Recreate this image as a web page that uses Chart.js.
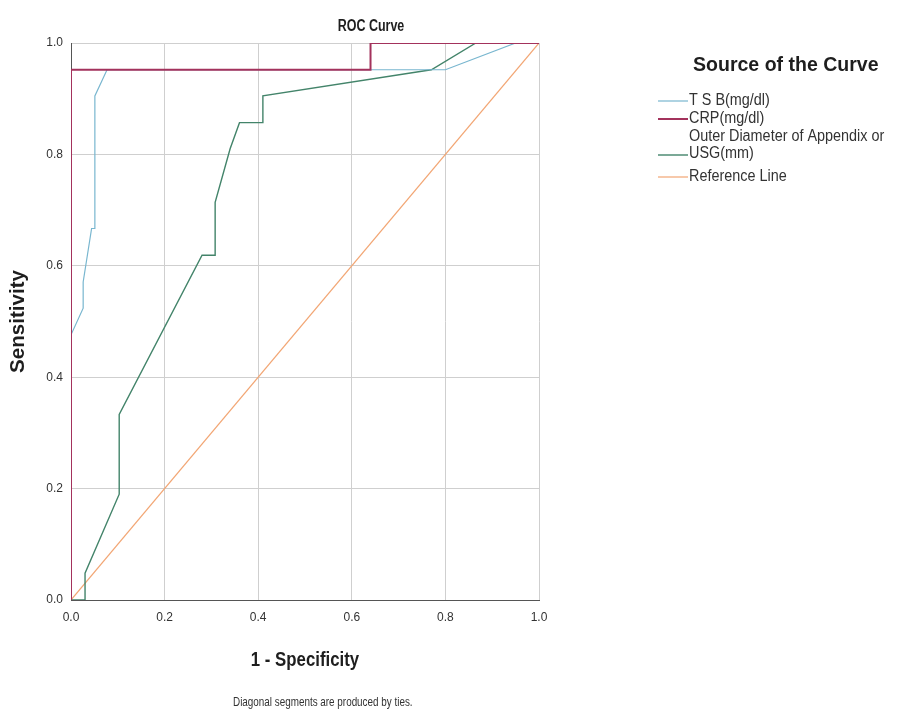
<!DOCTYPE html>
<html>
<head>
<meta charset="utf-8">
<script src="https://cdn.jsdelivr.net/npm/chart.js@4"></script>
<style>
  html, body { margin: 0; padding: 0; background: #fff; }
  canvas { display: block; }
</style>
</head>
<body>
<canvas id="roc" width="916" height="718"></canvas>
<script>
// ROC points: [1 - specificity, sensitivity]
const tsbPoints = [
  [0, 0], [0, 0.476], [0.026, 0.524], [0.026, 0.571], [0.044, 0.667],
  [0.051, 0.667], [0.051, 0.905], [0.077, 0.952], [0.8, 0.952],
  [0.95, 1], [1, 1]
];
const crpPoints = [
  [0, 0], [0, 0.952], [0.64, 0.952], [0.64, 1], [1, 1]
];
const diameterPoints = [
  [0, 0], [0.03, 0], [0.03, 0.048], [0.103, 0.19], [0.103, 0.333],
  [0.28, 0.619], [0.308, 0.619], [0.308, 0.714], [0.34, 0.81],
  [0.36, 0.857], [0.41, 0.857], [0.41, 0.905], [0.77, 0.952],
  [0.865, 1], [1, 1]
];
const referencePoints = [[0, 0], [1, 1]];

const seriesNames = ["T S B(mg/dl)", "CRP(mg/dl)", "Outer Diameter of Appendix or\nUSG(mm)", "Reference Line"];
const seriesColors = ["#78b6cf", "#a3325c", "#43846a", "#f2a674"];
const seriesWidths = [1.2, 2, 1.4, 1.2];
const tickValues = [0, 0.2, 0.4, 0.6, 0.8, 1.0];

const FONT = '"Liberation Sans", Arial, sans-serif';

const toXY = pts => pts.map(p => ({ x: p[0], y: p[1] }));

function line(i, pts, order) {
  return {
    label: seriesNames[i],
    data: toXY(pts),
    borderColor: seriesColors[i],
    borderWidth: seriesWidths[i],
    showLine: true,
    pointRadius: 0,
    tension: 0,
    order: order
  };
}

// text squeezed sideways, the reference uses a condensed face
function squeezed(ctx, text, x, y, font, align, sx, rot) {
  ctx.save();
  ctx.translate(x, y);
  if (rot) ctx.rotate(rot);
  ctx.scale(sx, 1);
  ctx.font = font;
  ctx.textAlign = align;
  ctx.textBaseline = "middle";
  ctx.fillText(text, 0, 0);
  ctx.restore();
}

const extraText = {
  id: "extraText",
  afterDraw(chart) {
    const ctx = chart.ctx;
    const a = chart.chartArea;
    ctx.save();
    ctx.fillStyle = "#1e1e1e";

    squeezed(ctx, "ROC Curve", 371, 27, "bold 16px " + FONT, "center", 0.78);
    squeezed(ctx, "1 - Specificity", (a.left + a.right) / 2, 660, "bold 20px " + FONT, "center", 0.84);
    squeezed(ctx, "Sensitivity", 18, (a.top + a.bottom) / 2, "bold 21px " + FONT, "center", 0.98, -Math.PI / 2);

    ctx.fillStyle = "#333";
    squeezed(ctx, "Diagonal segments are produced by ties.", 233, 702, "13px " + FONT, "left", 0.76);

    // legend
    ctx.fillStyle = "#1e1e1e";
    squeezed(ctx, "Source of the Curve", 693, 65, "bold 21px " + FONT, "left", 0.93);
    ctx.fillStyle = "#333";
    const rows = [
      { y: 101, lines: ["T S B(mg/dl)"] },
      { y: 119, lines: ["CRP(mg/dl)"] },
      { y: 137, lines: ["Outer Diameter of Appendix or", "USG(mm)"], sampleY: 155 },
      { y: 177, lines: ["Reference Line"] }
    ];
    rows.forEach((r, i) => {
      const sy = r.sampleY || r.y;
      ctx.strokeStyle = seriesColors[i];
      ctx.lineWidth = seriesWidths[i];
      ctx.beginPath();
      ctx.moveTo(658, sy);
      ctx.lineTo(688, sy);
      ctx.stroke();
      r.lines.forEach((t, k) => squeezed(ctx, t, 689, r.y + k * 17, "16px " + FONT, "left", 0.9));
    });
    ctx.restore();
  }
};

const axisCommon = {
  type: "linear",
  min: 0,
  max: 1,
  afterBuildTicks: s => { s.ticks = tickValues.map(v => ({ value: v })); },
  ticks: {
    callback: v => v.toFixed(1),
    color: "#333",
    font: { family: FONT, size: 12 },
    padding: 8
  },
  grid: { color: "#cfcfcf", lineWidth: 1, drawTicks: false },
  border: { color: "#555", width: 1 }
};

new Chart(document.getElementById("roc"), {
  type: "scatter",
  data: {
    datasets: [
      line(1, crpPoints, 0),
      line(0, tsbPoints, 1),
      line(2, diameterPoints, 2),
      line(3, referencePoints, 3)
    ]
  },
  options: {
    responsive: false,
    animation: false,
    devicePixelRatio: 1,
    layout: { padding: { top: 43, right: 377, left: 0, bottom: 0 } },
    plugins: { legend: { display: false }, tooltip: { enabled: false }, title: { display: false } },
    scales: {
      x: Object.assign({}, axisCommon, {
        ticks: Object.assign({}, axisCommon.ticks, { padding: 10 }),
        afterFit: s => { s.height = 118; }
      }),
      y: Object.assign({}, axisCommon, { afterFit: s => { s.width = 71; } })
    }
  },
  plugins: [extraText]
});
</script>
</body>
</html>
